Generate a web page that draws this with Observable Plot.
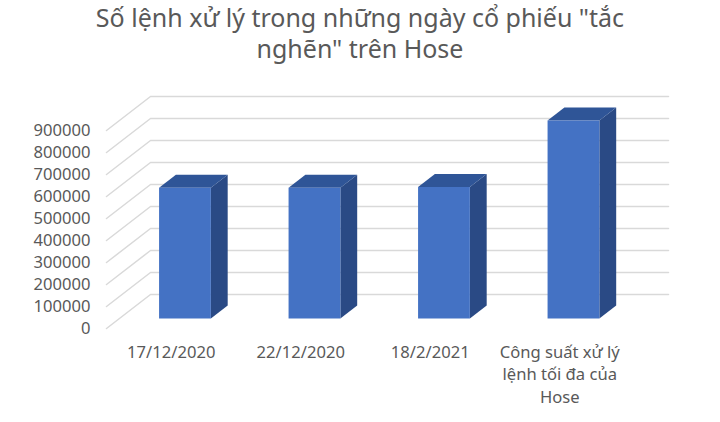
<!DOCTYPE html>
<html><head><meta charset="utf-8">
<script src="https://cdn.jsdelivr.net/npm/d3@7"></script>
<script src="https://cdn.jsdelivr.net/npm/@observablehq/plot@0.6"></script>
<style>
html,body{margin:0;padding:0;background:#fff;}
#title{height:70px;width:720px;box-sizing:border-box;padding-top:2px;text-align:center;font:25px/31px "Noto Sans",sans-serif;color:#595959;}
#title div{width:720px;}
svg{display:block;}
</style></head><body>
<div id="title"><div>Số lệnh xử lý trong những ngày cổ phiếu "tắc</div><div>nghẽn" trên Hose</div></div>
<div id="chart"></div>
<script>
const categories = ["17/12/2020", "22/12/2020", "18/2/2021", "Công suất xử lý\nlệnh tối đa của\nHose"];
const orders = [594000, 594000, 598000, 900000];
const gridTicks = [0,100000,200000,300000,400000,500000,600000,700000,800000,900000];

// Oblique 3D: a depth d in [0,1] shifts a point in data units.
const slotPx = 129.5, unitPx = 22 / 100000;
const kx = 44 / slotPx, ky = 34 / unitPx;
const P = (i, v, d) => ({x: i + d * kx, y: v + d * ky});
const barFront = 10 / 34, barBack = 23 / 34, barPad = 0.3, barNudge = 0.006;

const grid = gridTicks.flatMap(t => [
  {...P(0, t, 0), z: "s" + t}, {...P(0, t, 1), z: "s" + t},
  {...P(4, t, 1), z: "s" + t}
]);

const faces = {front: [], side: [], top: []};
orders.forEach((v, i) => {
  const a = i + barPad + barNudge, b = i + 1 - barPad + barNudge, id = "b" + i;
  faces.front.push(...[P(a,0,barFront),P(b,0,barFront),P(b,v,barFront),P(a,v,barFront)].map(p => ({...p, z:id})));
  faces.side.push(...[P(b,0,barFront),P(b,0,barBack),P(b,v,barBack),P(b,v,barFront)].map(p => ({...p, z:id})));
  faces.top.push(...[P(a,v,barFront),P(b,v,barFront),P(b,v,barBack),P(a,v,barBack)].map(p => ({...p, z:id})));
});
const face = (rows, fill) => Plot.line(rows, {x:"x", y:"y", z:"z", fill, stroke:"none", curve:"linear-closed"});

const font = "'Noto Sans', sans-serif";
const plot = Plot.plot({
  width: 720, height: 352,
  marginLeft: 106, marginRight: 96, marginTop: 60, marginBottom: 94,
  style: {background:"#fff", fontFamily: font},
  x: {type:"linear", domain:[0,4], axis:null},
  y: {domain:[0,900000], axis:null},
  marks: [
    Plot.line(grid, {x:"x", y:"y", z:"z", stroke:"#d9d9d9", strokeWidth:1.5}),
    face(faces.side, "#2a4a85"),
    face(faces.top, "#2f5597"),
    face(faces.front, "#4472c4"),
    Plot.axisY(gridTicks, {anchor:"left", tickSize:0, tickPadding:16, tickFormat:d=>String(d), fontSize:16.6, fill:"#595959", label:null}),
    Plot.text(categories, {x:(d,i)=>i+0.5, y:0, text:d=>d, dy:13, lineAnchor:"top", lineHeight:1.36, fontSize:16.6, fill:"#595959"})
  ]
});
document.getElementById("chart").appendChild(plot);
</script>
</body></html>
